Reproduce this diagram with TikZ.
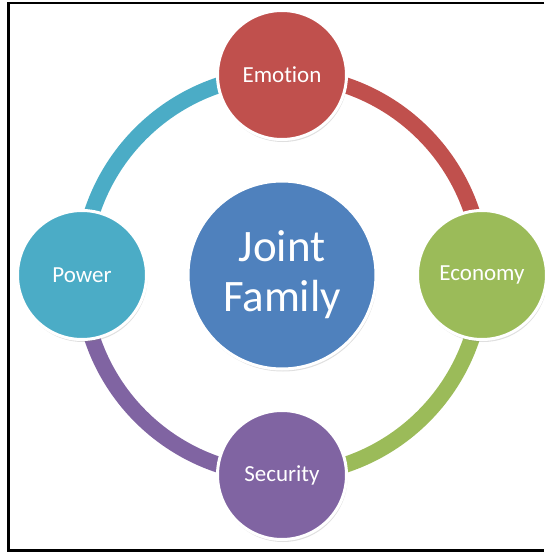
\documentclass[tikz,border=0pt]{standalone}
\usepackage{fontspec}
\setmainfont{Carlito}[Ligatures=NoCommon]
\usepackage{xcolor}
\usetikzlibrary{positioning,backgrounds,shadows}
\definecolor{familyblue}{HTML}{4F81BD}
\definecolor{emotionred}{HTML}{C0504D}
\definecolor{economygreen}{HTML}{9BBB59}
\definecolor{securitypurple}{HTML}{8064A2}
\definecolor{powerteal}{HTML}{4BACC6}

\begin{document}
\begin{tikzpicture}[
    x=1pt, y=1pt,
    petal/.style={circle, draw=white, line width=3pt, outer sep=0pt, minimum size=129pt, text=white,
                  font=\fontsize{23}{27}\selectfont,
                  drop shadow={opacity=0.25, shadow xshift=1pt, shadow yshift=-2.5pt}},
    ring/.style={line width=16pt}
]
                    \useasboundingbox (-282,-277) rectangle (262,275);
                    \draw[line width=2.7pt] (262,272) -- (-273.5,272) -- (-273.5,-275.5) -- (262,-275.5);

                    \node[circle, draw=white, line width=3pt, outer sep=0pt, minimum size=188pt, fill=familyblue, text=white,
                          align=center, font=\fontsize{45}{50}\selectfont,
                          drop shadow={opacity=0.25, shadow xshift=1pt, shadow yshift=-2.5pt}] (family) at (0,0) {Joint\\Family};

                    \node[petal, fill=emotionred, above=41.5pt of family] (emotion) {Emotion};
                    \node[petal, fill=economygreen, right=41.5pt of family] (economy) {Economy};
                    \node[petal, fill=securitypurple, below=41.5pt of family] (security) {Security};
                    \node[petal, fill=powerteal, left=41.5pt of family] (power) {Power};

                    \begin{scope}[on background layer]
                        \draw[ring, emotionred] (emotion.center) arc[start angle=90, end angle=0, radius=200pt];
                        \draw[ring, economygreen] (economy.center) arc[start angle=0, end angle=-90, radius=200pt];
                        \draw[ring, securitypurple] (security.center) arc[start angle=-90, end angle=-180, radius=200pt];
                        \draw[ring, powerteal] (power.center) arc[start angle=180, end angle=90, radius=200pt];
                    \end{scope}
                \end{tikzpicture}
\end{document}
